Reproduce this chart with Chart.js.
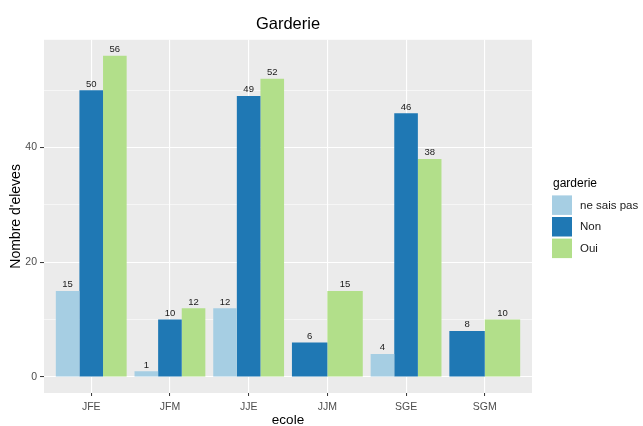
<!DOCTYPE html>
<html>
<head>
<meta charset="utf-8">
<script src="https://cdn.jsdelivr.net/npm/chart.js@4.4.1/dist/chart.umd.min.js"></script>
<style>
  html, body { margin: 0; padding: 0; background: #ffffff; }
  canvas { display: block; }
</style>
</head>
<body>
<canvas id="c" width="643" height="426"></canvas>
<script>
// ---- data ----
const categories = ['JFE', 'JFM', 'JJE', 'JJM', 'SGE', 'SGM'];
const seriesNames = ['ne sais pas', 'Non', 'Oui'];
const neSaisPas = [15, 1, 12, null, 4, null];
const non = [50, 10, 49, 6, 46, 8];
const oui = [56, 12, 52, 15, 38, 10];
const yTickLabels = [0, 20, 40];
const seriesColors = ['#A6CEE3', '#1F78B4', '#B2DF8A'];

const FONT = '"Liberation Sans", Arial, "DejaVu Sans", sans-serif';

const panelPlugin = {
  id: 'panelBg',
  beforeDraw(chart) {
    const { ctx, chartArea: a } = chart;
    ctx.save();
    ctx.fillStyle = '#EBEBEB';
    ctx.fillRect(a.left, a.top, a.right - a.left, a.bottom - a.top);
    ctx.restore();
  }
};

const valueLabelPlugin = {
  id: 'valueLabels',
  afterDatasetsDraw(chart) {
    const ctx = chart.ctx;
    ctx.save();
    ctx.font = '9.5px ' + FONT;
    ctx.fillStyle = '#1A1A1A';
    ctx.textAlign = 'center';
    ctx.textBaseline = 'bottom';
    chart.data.datasets.forEach((ds, di) => {
      const meta = chart.getDatasetMeta(di);
      meta.data.forEach((el, i) => {
        const v = ds.data[i];
        if (v === null || v === undefined) return;
        ctx.fillText(String(v), el.x, el.y - 1.5);
      });
    });
    ctx.restore();
  }
};

const legendPlugin = {
  id: 'ggLegend',
  afterDraw(chart) {
    const { ctx, chartArea: a } = chart;
    const mid = (a.top + a.bottom) / 2;
    const x0 = a.right + 20;
    ctx.save();
    ctx.fillStyle = '#000000';
    ctx.font = '12px ' + FONT;
    ctx.textAlign = 'left';
    ctx.textBaseline = 'middle';
    ctx.fillText('garderie', x0 + 1, mid - 33);
    chart.data.datasets.forEach((ds, i) => {
      const top = mid - 21 + i * 21.6;
      ctx.fillStyle = ds.backgroundColor;
      ctx.fillRect(x0, top, 20, 19.5);
      ctx.fillStyle = '#1A1A1A';
      ctx.font = '11.5px ' + FONT;
      ctx.fillText(ds.label, x0 + 28, top + 10);
    });
    ctx.restore();
  }
};

const isMajor = v => yTickLabels.includes(v);

new Chart(document.getElementById('c'), {
  type: 'bar',
  data: {
    labels: categories,
    datasets: [
      { label: seriesNames[0], data: neSaisPas, backgroundColor: seriesColors[0] },
      { label: seriesNames[1], data: non, backgroundColor: seriesColors[1] },
      { label: seriesNames[2], data: oui, backgroundColor: seriesColors[2] }
    ]
  },
  options: {
    responsive: false,
    animation: false,
    skipNull: true,
    categoryPercentage: 0.9,
    barPercentage: 1.0,
    layout: { padding: { top: 0, right: 111, bottom: 0, left: 0 } },
    plugins: {
      legend: { display: false },
      tooltip: { enabled: false },
      title: {
        display: true,
        text: 'Garderie',
        fullSize: false,
        color: '#000000',
        font: { family: FONT, size: 16.5, weight: 'normal' },
        padding: { top: 15, bottom: 5 }
      }
    },
    scales: {
      x: {
        offset: false,
        afterBuildTicks: (scale) => { scale._startValue = -0.6; scale._valueRange = 6.2; },
        afterFit: (scale) => { scale.height = 33; },
        border: { display: false },
        grid: {
          offset: false,
          color: '#FFFFFF',
          lineWidth: 1.1,
          drawTicks: true,
          tickLength: 3,
          tickColor: '#333333',
          tickWidth: 1
        },
        ticks: {
          color: '#4D4D4D',
          font: { family: FONT, size: 10.5 },
          padding: 4.5,
          maxRotation: 0,
          autoSkip: false
        },
        title: {
          display: true,
          text: 'ecole',
          color: '#000000',
          font: { family: FONT, size: 13.5 },
          padding: { top: 0, bottom: -2.5 }
        }
      },
      y: {
        min: -2.8,
        max: 58.8,
        afterFit: (scale) => { scale.width = 44; },
        border: { display: false },
        grid: {
          color: '#FFFFFF',
          lineWidth: ctx => (ctx.tick && isMajor(ctx.tick.value)) ? 1.1 : 0.55,
          drawTicks: true,
          tickLength: 4,
          tickColor: ctx => (ctx.tick && isMajor(ctx.tick.value)) ? '#333333' : 'rgba(0,0,0,0)',
          tickWidth: 1
        },
        ticks: {
          stepSize: 10,
          includeBounds: false,
          color: '#4D4D4D',
          font: { family: FONT, size: 10.5 },
          padding: 3,
          callback: v => isMajor(v) ? String(v) : ''
        },
        title: {
          display: true,
          text: "Nombre d'eleves",
          color: '#000000',
          font: { family: FONT, size: 14 },
          padding: { top: 7.5, bottom: 0 }
        }
      }
    }
  },
  plugins: [panelPlugin, valueLabelPlugin, legendPlugin]
});
</script>
</body>
</html>
